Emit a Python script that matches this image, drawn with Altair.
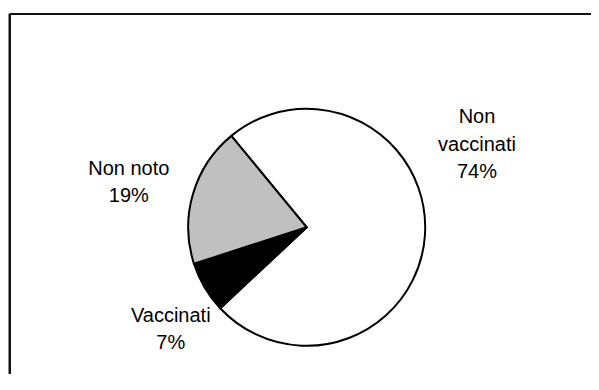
import math
import altair as alt
import pandas as pd

# ---- data ----
categories = ["Non vaccinati", "Vaccinati", "Non noto"]
label_names = ["Non\nvaccinati", "Vaccinati", "Non noto"]
values = [74, 7, 19]
colors = ["#ffffff", "#000000", "#c0c0c0"]

df = pd.DataFrame({
    "idx": list(range(len(categories))),
    "cat": categories,
    "value": values,
    "label": [f"{n}\n{v}%" for n, v in zip(label_names, values)],
})

# ---- layout / style ----
CX, CY = 298.7, 219.3          # pie centre (chart coords)
R = 118.5                      # pie radius
LABEL_R = 184
start = math.radians(320.5)
theta_scale = alt.Scale(domain=[0, 100], range=[start, start + 2 * math.pi])
label_offsets = {
    "Non vaccinati": (-13.3, -122.0),
    "Vaccinati": (22.6, -5.0),
    "Non noto": (-1.3, -7.0),
}
FONT = "Liberation Sans"
W, H = 583, 366

base = (
    alt.Chart(df)
    .transform_window(cum="sum(value)", sort=[{"field": "idx"}])
    .transform_calculate(start="datum.cum - datum.value",
                         mid="datum.cum - datum.value / 2")
)

arcs = base.mark_arc(
    outerRadius=R, stroke="black", strokeWidth=2, x=CX, y=CY
).encode(
    theta=alt.Theta("start:Q", scale=theta_scale),
    theta2="cum:Q",
    fill=alt.Fill("cat:N", scale=alt.Scale(domain=categories, range=colors), legend=None),
)

labels = []
for c in categories:
    dx, dy = label_offsets[c]
    labels.append(
        base.transform_filter(alt.datum.cat == c)
        .mark_text(
            x=CX, y=CY, radius=LABEL_R, dx=dx, dy=dy,
            align="center", baseline="middle", lineBreak="\n", lineHeight=27.5,
            font=FONT, fontSize=20, color="black",
        )
        .encode(theta=alt.Theta("mid:Q", scale=theta_scale), text="label:N")
    )

frame_top = alt.Chart(df).mark_rule(color="#111111", strokeWidth=2).encode(
    x=alt.value(1.8), x2=alt.value(W), y=alt.value(6)
)
frame_left = alt.Chart(df).mark_rule(color="#111111", strokeWidth=2).encode(
    x=alt.value(1.8), y=alt.value(6), y2=alt.value(H)
)

chart = (
    alt.layer(frame_top, frame_left, arcs, *labels)
    .properties(width=W, height=H, padding=0,
                autosize=alt.AutoSizeParams(type="none"),
                background="white")
    .configure_view(stroke=None)
)

chart.save("out.html", embed_options={"renderer": "svg", "actions": False})
